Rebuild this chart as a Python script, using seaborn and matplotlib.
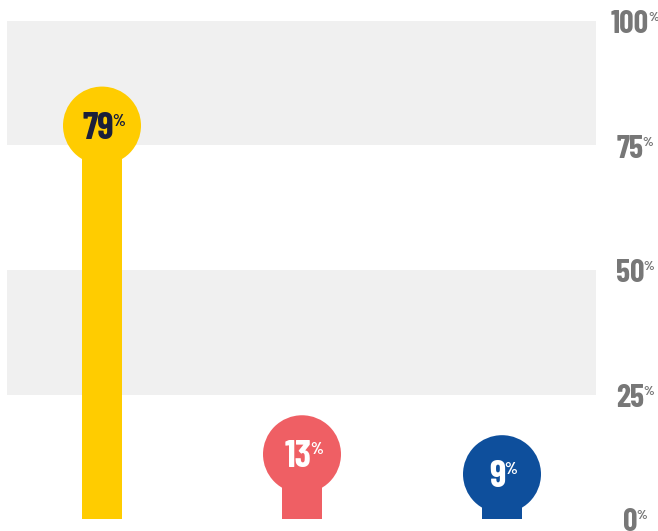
import matplotlib
matplotlib.use("Agg")
import matplotlib.pyplot as plt
import seaborn as sns
from matplotlib import font_manager as fm

# ---- data ----
categories = ["A", "B", "C"]
values = [79, 13, 9]
bar_colors = ["#FFCC00", "#EF5F64", "#0E4F9C"]
label_colors = ["#1B1F3A", "#FFFFFF", "#FFFFFF"]
tick_values = [0, 25, 50, 75, 100]
tick_labels = ["0", "25", "50", "75", "100"]

names = {f.name for f in fm.fontManager.ttflist}
FONT = "Barlow Condensed" if "Barlow Condensed" in names else "DejaVu Sans"

sns.set_theme(style="white")
plt.rcParams["font.family"] = [FONT, "DejaVu Sans"]

W, H, DPI = 658, 531, 100
fig = plt.figure(figsize=(W / DPI, H / DPI), dpi=DPI)
left, right, top, bottom = 7, 596, 21, 519
ax = fig.add_axes([left / W, (H - bottom) / H, (right - left) / W, (bottom - top) / H])

# background bands
ax.axhspan(75, 100, color="#F0F0F0", zorder=0, lw=0)
ax.axhspan(25, 50, color="#F0F0F0", zorder=0, lw=0)

sns.barplot(x=categories, y=values, hue=categories, palette=bar_colors,
            legend=False, width=0.2, ax=ax, saturation=1, zorder=2, linewidth=0)

# circles at bar tops
xs = list(range(len(categories)))
ax.scatter(xs, values, s=3154, c=bar_colors, lw=0, zorder=3, clip_on=False)

ax.set_xlim(-0.475, 2.47)
ax.set_ylim(0, 100)
for s in ax.spines.values():
    s.set_visible(False)
ax.set_xticks([])
ax.set_yticks([])
ax.set_xlabel("")
ax.set_ylabel("")

# circle labels
for x, v, col in zip(xs, values, label_colors):
    t = ax.annotate(str(v), xy=(x, v), xytext=(-3, -9.4), textcoords="offset points",
                    ha="center", va="baseline", fontsize=27, fontweight="bold",
                    color=col, zorder=4)
    ax.annotate("%", xy=(1, 1), xycoords=t, xytext=(-1.0, -1.5), textcoords="offset points",
                ha="left", va="top", fontsize=12, fontweight="bold", color=col, zorder=4)

# right axis labels
xlab = (630 - left) / (right - left)
for v, lab in zip(tick_values, tick_labels):
    t = ax.annotate(lab, xy=(xlab, v), xycoords=("axes fraction", "data"),
                    xytext=(0, -8.8), textcoords="offset points",
                    ha="center", va="baseline", fontsize=23, fontweight="bold",
                    color="#777777", annotation_clip=False)
    ax.annotate("%", xy=(1, 1), xycoords=t, xytext=(-0.8, -1.5), textcoords="offset points",
                ha="left", va="top", fontsize=10, fontweight="bold", color="#777777",
                annotation_clip=False)

fig.savefig("out.png", dpi=DPI)
